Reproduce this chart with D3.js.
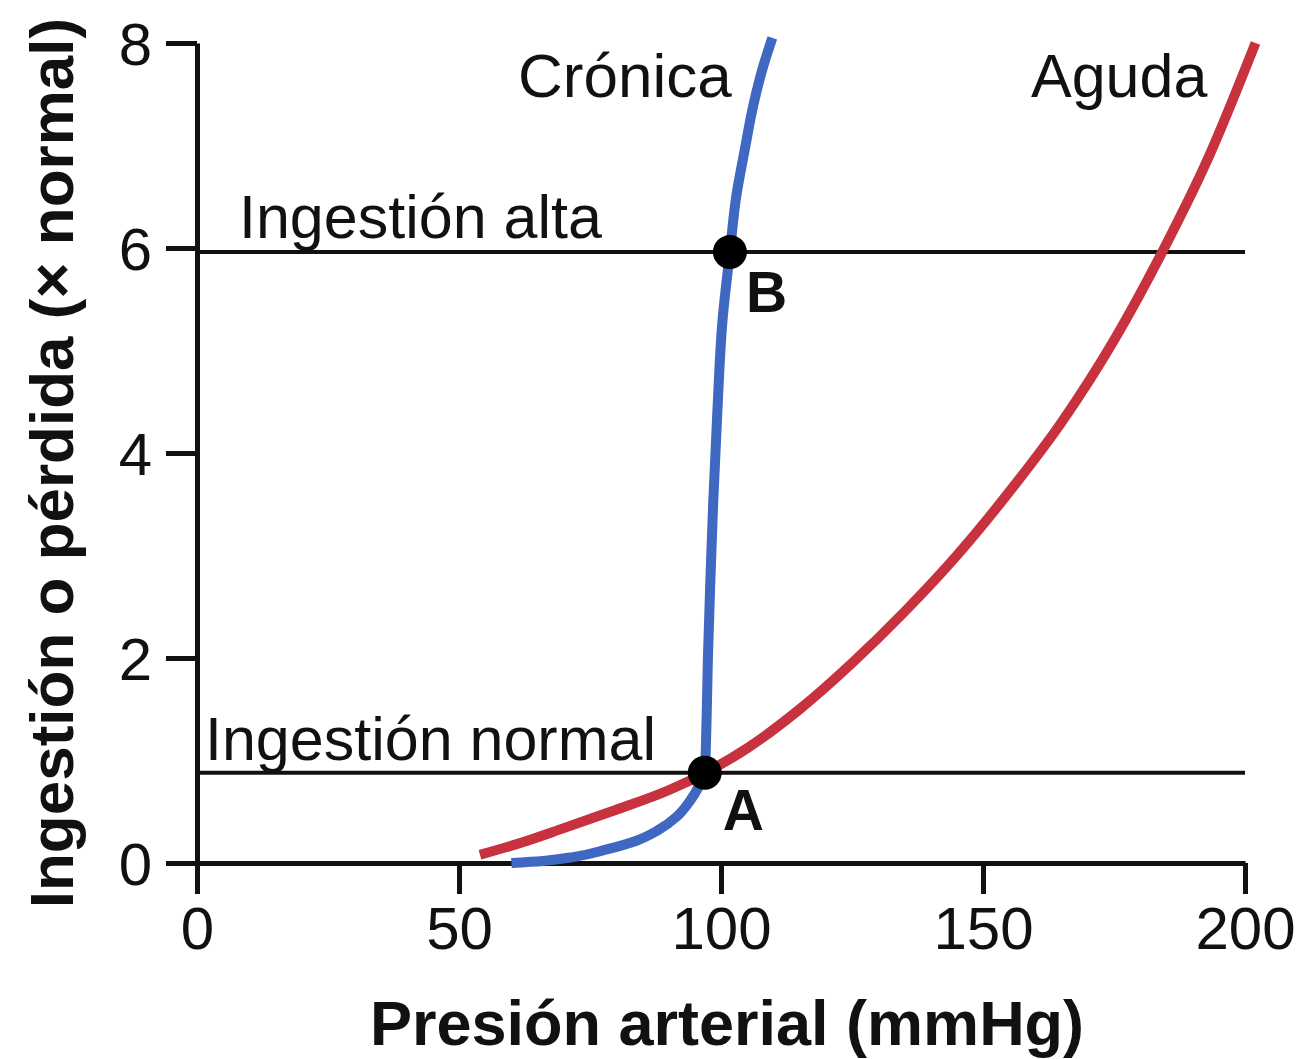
<!DOCTYPE html>
<html>
<head>
<meta charset="utf-8">
<script src="https://cdn.jsdelivr.net/npm/d3@7"></script>
<style>
  html, body { margin: 0; padding: 0; background: #fff; }
  svg { display: block; }
  text { font-family: "Liberation Sans", Arial, Helvetica, sans-serif; fill: #111; }
</style>
</head>
<body>
<svg id="chart" width="1309" height="1059"></svg>
<script>
// ---- Data ----
const xTicks = [0, 50, 100, 150, 200];
const yTicks = [0, 2, 4, 6, 8];

// Aguda (acute) curve: [pressure mmHg, intake/loss × normal]
const agudaX = [54, 62, 70, 80, 90, 97, 105, 115, 125, 135, 145, 155, 165, 175, 184.4, 193, 202];
const agudaY = [0.08, 0.2, 0.34, 0.52, 0.71, 0.88, 1.12, 1.5, 1.95, 2.45, 3.0, 3.62, 4.3, 5.1, 5.98, 6.88, 8.0];

// Crónica (chronic) curve
const cronicaX = [60, 66, 72, 78, 84, 88, 91.5, 94, 95.8, 96.9, 97.2, 97.5, 98.0, 98.5, 99.3, 100.3, 101.7, 102.9, 104.5, 106.2, 108.1, 109.8];
const cronicaY = [0.0, 0.02, 0.06, 0.13, 0.22, 0.32, 0.45, 0.6, 0.75, 0.88, 1.3, 2.0, 2.8, 3.5, 4.4, 5.3, 5.96, 6.5, 6.95, 7.4, 7.78, 8.05];

// Intake levels (horizontal lines)
const intakeLabels = ["Ingestión normal", "Ingestión alta"];
const intakeLevels = [0.88, 5.96];

// Equilibrium points
const pointLabels = ["A", "B"];
const pointX = [96.9, 101.7];
const pointY = [0.88, 5.96];

const seriesNames = ["Crónica", "Aguda"];

const xTitle = "Presión arterial (mmHg)";
const yTitle = "Ingestión o pérdida (× normal)";

// ---- Chart ----
const svg = d3.select("#chart");
const x = d3.scaleLinear().domain([0, 200]).range([197, 1245]);
const y = d3.scaleLinear().domain([0, 8]).range([863, 43]);

const RED = "#c8323f";
const BLUE = "#3e68c2";

// Intake reference lines
svg.append("g").selectAll("line")
  .data(intakeLevels)
  .join("line")
  .attr("x1", x(0)).attr("x2", x(200))
  .attr("y1", d => y(d)).attr("y2", d => y(d))
  .attr("stroke", "#111").attr("stroke-width", 4);

// Intake labels
svg.append("text").attr("x", 205).attr("y", y(intakeLevels[0]) - 13)
  .attr("font-size", 61).text(intakeLabels[0]);
svg.append("text").attr("x", 239).attr("y", y(intakeLevels[1]) - 14)
  .attr("font-size", 61).text(intakeLabels[1]);

// Axes
const xAxis = svg.append("g").attr("transform", `translate(0,${y(0)})`)
  .call(d3.axisBottom(x).tickValues(xTicks).tickSize(31).tickSizeOuter(0).tickPadding(12).tickFormat(d3.format("d")));
const yAxis = svg.append("g").attr("transform", `translate(${x(0)},0)`)
  .call(d3.axisLeft(y).tickValues(yTicks).tickSize(31).tickSizeOuter(0).tickPadding(14).tickFormat(d3.format("d")));

[xAxis, yAxis].forEach(g => {
  g.select(".domain").attr("stroke", "#111").attr("stroke-width", 5);
  g.selectAll(".tick line").attr("stroke", "#111").attr("stroke-width", 5);
  g.selectAll(".tick text").attr("font-size", 60)
    .attr("font-family", "'Liberation Sans', Arial, sans-serif").attr("fill", "#111");
});
xAxis.selectAll(".tick text").attr("dy", "0.72em");
yAxis.selectAll(".tick text").attr("dy", "0.36em");

// Curves
const lineX = d3.line().x(d => x(d[0])).y(d => y(d[1])).curve(d3.curveMonotoneX);
const lineY = d3.line().x(d => x(d[0])).y(d => y(d[1])).curve(d3.curveMonotoneY);
const cronica = cronicaX.map((v, i) => [v, cronicaY[i]]);
const aguda = agudaX.map((v, i) => [v, agudaY[i]]);

svg.append("path").attr("d", lineY(cronica))
  .attr("fill", "none").attr("stroke", BLUE).attr("stroke-width", 10);
svg.append("path").attr("d", lineX(aguda))
  .attr("fill", "none").attr("stroke", RED).attr("stroke-width", 10);

// Points
svg.append("g").selectAll("circle")
  .data(pointX.map((v, i) => [v, pointY[i]]))
  .join("circle")
  .attr("cx", d => x(d[0])).attr("cy", d => y(d[1]))
  .attr("r", 17).attr("fill", "#000");

svg.append("text").attr("x", x(pointX[0]) + 18).attr("y", y(pointY[0]) + 57)
  .attr("font-size", 57).attr("font-weight", "bold").text(pointLabels[0]);
svg.append("text").attr("x", x(pointX[1]) + 16).attr("y", y(pointY[1]) + 60)
  .attr("font-size", 57).attr("font-weight", "bold").text(pointLabels[1]);

// Series labels
svg.append("text").attr("x", 518).attr("y", 97).attr("font-size", 62).text(seriesNames[0]);
svg.append("text").attr("x", 1031).attr("y", 97).attr("font-size", 61).text(seriesNames[1]);

// Axis titles
svg.append("text").attr("x", (372 + 1082) / 2).attr("y", 1045)
  .attr("text-anchor", "middle").attr("font-size", 63).attr("font-weight", "bold").text(xTitle);
svg.append("text").attr("transform", "translate(73,463) rotate(-90)")
  .attr("text-anchor", "middle").attr("font-size", 62).attr("font-weight", "bold").text(yTitle);
</script>
</body>
</html>
